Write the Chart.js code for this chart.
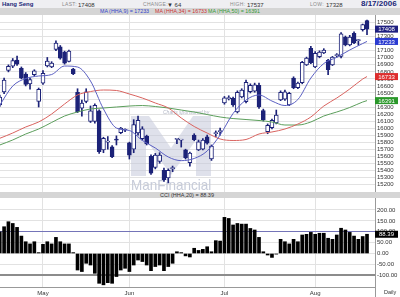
<!DOCTYPE html>
<html>
<head>
<meta charset="utf-8">
<script src="https://cdn.jsdelivr.net/npm/chart.js@4"></script>
<style>
body{margin:0;width:400px;height:297px;overflow:hidden;background:#fff;position:relative;font-family:"Liberation Sans",Arial,sans-serif}
.t{position:absolute;white-space:nowrap;line-height:1}
.lab{font-size:5px;color:#8a8a8a;top:2px;letter-spacing:0.3px}
.val{font-size:6px;color:#333;top:1.5px}
#row1{position:absolute;left:0;top:0;width:400px;height:8px;background:#efeff2}
#row2{position:absolute;left:0;top:8px;width:400px;height:7px;background:#d5d5d5}
#band{position:absolute;left:0;top:192px;width:400px;height:6px;background:#d5d5d5}
#pc{position:absolute;left:0;top:15px}
#cc{position:absolute;left:0;top:198px}
#vl{position:absolute;left:375px;top:287px;width:1px;height:10px;background:#999}
</style>
</head>
<body>
<div id="row1">
  <span class="t" style="left:2px;top:0.5px;font-size:6px;font-weight:bold;color:#1b2778">Hang Seng</span>
  <span class="t lab" style="left:62px">LAST:</span><span class="t val" id="vLast" style="left:78px"></span>
  <span class="t lab" style="left:143px">CHANGE:</span><span class="t val" id="vChg" style="left:167px"></span>
  <span class="t lab" style="left:230px">HIGH:</span><span class="t val" id="vHigh" style="left:247px"></span>
  <span class="t lab" style="left:310px">LOW:</span><span class="t val" id="vLow" style="left:326px"></span>
  <span class="t" style="left:361px;top:0px;font-size:8px;font-weight:bold;color:#1b2778">8/17/2006</span>
</div>
<div id="row2">
  <span class="t" id="l9" style="left:100px;top:1.2px;font-size:5.3px;color:#3344cc"></span>
  <span class="t" id="l34" style="left:155px;top:1.2px;font-size:5.3px;color:#cc3333"></span>
  <span class="t" id="l50" style="left:208px;top:1.2px;font-size:5.3px;color:#339933"></span>
</div>
<canvas id="pc" width="400" height="177"></canvas>
<div id="band"><span class="t" id="lcci" style="left:160px;top:0.5px;font-size:5.5px;color:#333"></span></div>
<canvas id="cc" width="400" height="99"></canvas>
<div id="vl"></div>
<span class="t" style="left:384px;top:290px;font-size:5.5px;color:#333">Daily</span>

<script>
// trading days shown on the chart
const days = ['4/13','4/18','4/19','4/20','4/21','4/24','4/25','4/26','4/27','4/28',
  '5/2','5/3','5/4','5/8','5/9','5/10','5/11','5/12','5/15','5/16',
  '5/17','5/18','5/19','5/22','5/23','5/24','5/25','5/26','5/29','5/30',
  '6/1','6/2','6/5','6/6','6/7','6/8','6/9','6/12','6/13','6/14',
  '6/15','6/16','6/19','6/20','6/21','6/22','6/23','6/26','6/27','6/28',
  '6/29','6/30','7/3','7/4','7/5','7/6','7/7','7/10','7/11','7/12',
  '7/13','7/14','7/17','7/18','7/19','7/20','7/21','7/24','7/25','7/26',
  '7/27','7/28','7/31','8/1','8/2','8/3','8/4','8/7','8/8','8/9',
  '8/10','8/11','8/14','8/15','8/16','8/17'];
const monthNames = ['May','Jun','Jul','Aug'];

const open = [16330,16513,16820,16880,16968,16850,16770,16630,16760,16380,
  16640,16885,16870,17120,17155,17080,16950,16840,16510,16285,
  16378,16095,16095,16245,15690,15800,15735,15840,15935,15970,
  15790,15700,15930,15850,15885,15600,15440,15525,15400,15290,
  15420,15840,15830,15690,15510,15900,15690,15700,15875,15560,
  15920,15950,16360,16420,16425,16230,16445,16375,16520,16525,
  16610,16250,15950,16005,16075,16400,16410,16330,16710,16575,
  16645,16900,17135,16870,17015,17070,16965,16900,17030,17020,
  17295,17185,17350,17245,17400,17530];
const high = [16470,16710,16900,16990,17025,16870,16790,16710,16830,16570,
  16820,17005,16945,17240,17175,17095,17110,16850,16560,16400,
  16560,16315,16345,16260,15870,15880,15750,15890,16010,15990,
  15800,16120,16170,16020,15900,15620,15640,15650,15430,15420,
  15460,15850,15840,15700,15660,15920,15830,15850,15900,15760,
  15960,16000,16450,16460,16440,16530,16560,16684,16630,16640,
  16640,16270,16060,16130,16257,16530,16540,16510,16730,16655,
  16950,17010,17165,17090,17100,17130,16980,17020,17060,17360,
  17310,17320,17370,17260,17480,17537];
const low = [16310,16490,16800,16860,16890,16700,16600,16555,16745,16300,
  16620,16870,16860,17100,16980,16910,16940,16760,16220,16170,
  16360,16080,16070,15640,15650,15700,15580,15760,15920,15950,
  15560,15650,15900,15830,15760,15340,15420,15500,15240,15220,
  15380,15780,15730,15560,15460,15820,15680,15690,15770,15540,
  15880,15900,16340,16400,16310,16215,16430,16360,16500,16510,
  16280,16100,15920,15990,16060,16390,16395,16320,16560,16560,
  16630,16890,16915,16860,17000,17060,16760,16890,17010,17000,
  17170,17170,17200,17180,17380,17328];
const close = [16440,16684,16880,16960,16910,16710,16620,16690,16815,16550,
  16780,16955,16925,17210,16995,16925,17095,16775,16235,16355,
  16515,16245,16325,15665,15855,15815,15595,15830,16000,15980,
  15615,16050,16110,15990,15775,15360,15615,15615,15265,15400,
  15440,15850,15840,15575,15645,15835,15805,15830,15785,15745,
  15935,15960,16430,16430,16330,16510,16540,16650,16610,16615,
  16300,16120,16040,16110,16185,16510,16515,16495,16575,16640,
  16935,16995,16930,17065,17080,17110,16830,17010,17035,17340,
  17185,17295,17215,17250,17472,17408];

// moving averages at every third session
const maIdx = [0,3,6,9,12,15,18,21,24,27,30,33,36,39,42,45,48,51,54,57,60,63,66,69,72,75,78,81,84,85];
const ma9 = [16328,16599,16705,16741,16762,16883,16869,16670,16272,16001,15966,15824,15717,15589,15537,
  15568,15674,15902,16208,16400,16471,16385,16321,16407,16712,16919,17007,17111,17203,17233];
const ma34 = [15855,15930,16016,16087,16200,16343,16471,16520,16542,16535,16485,16428,16357,16286,16144,
  16023,15930,15845,15824,15838,15916,15945,15987,16058,16158,16314,16428,16556,16698,16733];
const ma50 = [15760,15831,15916,15987,16080,16172,16229,16272,16286,16300,16314,16321,16307,16286,16257,
  16229,16193,16158,16136,16122,16108,16087,16044,16044,16087,16172,16229,16293,16371,16391];

const cci = [100,123,146,138,120,80,54,44,54,4,
  42,54,44,74,54,44,44,4,-76,-83,
  -45,-53,-91,-137,-144,-134,-137,-106,-76,-68,
  -83,-53,-30,-37,-53,-79,-60,-53,-79,-60,
  -45,8,4,-11,-16,24,14,19,31,8,
  59,57,166,161,131,138,135,135,115,108,
  74,8,-7,-18,-3,65,54,44,65,54,
  85,88,97,88,93,93,70,65,85,116,
  108,97,80,65,78,88.39];

const priceTicks = [15200,15300,15400,15500,15600,15700,15800,15900,16000,16100,16200,16300,
  16400,16500,16600,16700,16800,16900,17000,17100,17200,17300,17400,17500];
const cciTicks = [-100,-50,0,50,100,150,200];

const navy = '#1c2278';
const gridCol = '#e2e2e2';
const fontFam = "'Liberation Sans', Arial, sans-serif";
Chart.defaults.font.family = fontFam;

const last = days.length - 1;
const monthStart = days.map((d, i) => i).filter(i => i > 0 && days[i].split('/')[0] !== days[i - 1].split('/')[0]);

document.getElementById('vLast').textContent = close[last];
document.getElementById('vChg').textContent = '\u25BC ' + Math.round(close[last - 1] - close[last]);
document.getElementById('vHigh').textContent = high[last];
document.getElementById('vLow').textContent = low[last];
document.getElementById('l9').textContent = 'MA (HHA,9) = ' + ma9[ma9.length - 1];
document.getElementById('l34').textContent = 'MA (HHA,34) = ' + ma34[ma34.length - 1];
document.getElementById('l50').textContent = 'MA (HHA,50) = ' + ma50[ma50.length - 1];
document.getElementById('lcci').textContent = 'CCI (HHA,20) = ' + cci[last].toFixed(2);

const xMin = 0.05, xMax = 86.85;

function fitRight(s) { s.width = 25; s.paddingTop = 0; s.paddingBottom = 0; }

// value tags on the right axis
function tagPlugin(tags) {
  return {
    id: 'tags',
    afterDraw(chart) {
      const ctx = chart.ctx, y = chart.scales.y;
      ctx.save();
      ctx.font = '6px ' + fontFam;
      ctx.textAlign = 'center';
      ctx.textBaseline = 'middle';
      tags.forEach(t => {
        const py = y.getPixelForValue(t.v);
        ctx.fillStyle = t.c;
        ctx.fillRect(375, py - 3.5, 23, 7);
        ctx.fillStyle = '#fff';
        ctx.fillText(t.txt, 386.5, py + 0.5);
      });
      ctx.restore();
    }
  };
}

const watermark = {
  id: 'watermark',
  beforeDatasetsDraw(chart) {
    const ctx = chart.ctx;
    ctx.save();
    ctx.fillStyle = 'rgba(196,201,218,0.55)';
    ctx.beginPath();
    const pts = [[131,101],[149,101],[171,133],[193,101],[211,101],[211,161],[196,161],[196,125],[171,160],[146,125],[146,161],[131,161]];
    pts.forEach((p, i) => i ? ctx.lineTo(p[0], p[1]) : ctx.moveTo(p[0], p[1]));
    ctx.closePath();
    ctx.fill();
    ctx.fillStyle = '#c6cbd9';
    ctx.font = '15px ' + fontFam;
    ctx.translate(131, 175);
    ctx.scale(0.9, 1);
    ctx.fillText('ManFinancial', 0, 0);
    ctx.setTransform(1, 0, 0, 1, 0, 0);
    ctx.fillStyle = '#b4b8c6';
    ctx.font = 'italic 5px ' + fontFam;
    ctx.fillText('Charts sponsored by', 163, 99);
    ctx.restore();
  }
};

new Chart('pc', {
  data: {
    datasets: [
      {
        type: 'bar',
        data: days.map((d, i) => ({x: i, y: [low[i], high[i]]})),
        backgroundColor: navy,
        barThickness: 1,
        grouped: false,
        order: 3
      },
      {
        type: 'bar',
        data: days.map((d, i) => ({x: i, y: [open[i], close[i]]})),
        backgroundColor: days.map((d, i) => close[i] >= open[i] ? '#ffffff' : navy),
        borderColor: navy,
        borderWidth: 1,
        borderSkipped: false,
        barThickness: 4,
        minBarLength: 1,
        grouped: false,
        order: 2
      },
      {type: 'line', data: maIdx.map((v, k) => ({x: v, y: ma9[k]})), borderColor: '#5a5fc2', borderWidth: 1, pointRadius: 0, cubicInterpolationMode: 'monotone', order: 1},
      {type: 'line', data: maIdx.map((v, k) => ({x: v, y: ma34[k]})), borderColor: '#d9625e', borderWidth: 1, pointRadius: 0, cubicInterpolationMode: 'monotone', order: 1},
      {type: 'line', data: maIdx.map((v, k) => ({x: v, y: ma50[k]})), borderColor: '#5b9e5b', borderWidth: 1, pointRadius: 0, cubicInterpolationMode: 'monotone', order: 1}
    ]
  },
  options: {
    responsive: false,
    animation: false,
    events: [],
    layout: {padding: 0},
    plugins: {legend: {display: false}, tooltip: {enabled: false}},
    scales: {
      x: {
        type: 'linear', min: xMin, max: xMax, offset: false,
        afterBuildTicks: s => { s.ticks = monthStart.map(v => ({value: v})); },
        grid: {color: gridCol, drawTicks: false, offset: false},
        border: {display: false},
        ticks: {display: false},
        afterFit: s => { s.height = 0; s.paddingLeft = 0; s.paddingRight = 0; }
      },
      y: {
        position: 'right', min: 15091, max: 17609,
        afterBuildTicks: s => { s.ticks = priceTicks.map(v => ({value: v})); },
        grid: {color: gridCol, drawTicks: false},
        border: {color: '#9a9a9a'},
        ticks: {padding: 2, color: '#333', font: {size: 6}, autoSkip: false, callback: v => String(v)},
        afterFit: fitRight
      }
    }
  },
  plugins: [watermark, tagPlugin([
    {v: close[last], txt: String(close[last]), c: '#1f2080'},
    {v: ma9[ma9.length - 1], txt: String(ma9[ma9.length - 1]), c: '#2b3bd1'},
    {v: ma34[ma34.length - 1], txt: String(ma34[ma34.length - 1]), c: '#de2e2e'},
    {v: ma50[ma50.length - 1], txt: String(ma50[ma50.length - 1]), c: '#2a982a'}
  ])]
});

new Chart('cc', {
  type: 'bar',
  data: {
    datasets: [{
      data: days.map((d, i) => ({x: i, y: cci[i]})),
      backgroundColor: '#000',
      barThickness: 3,
      grouped: false
    }]
  },
  options: {
    responsive: false,
    animation: false,
    events: [],
    layout: {padding: 0},
    plugins: {legend: {display: false}, tooltip: {enabled: false}},
    scales: {
      x: {
        type: 'linear', min: xMin, max: xMax, offset: false,
        afterBuildTicks: s => { s.ticks = monthStart.map(v => ({value: v})); },
        grid: {color: gridCol, drawTicks: false, offset: false},
        border: {color: '#999'},
        ticks: {padding: 3, color: '#333', font: {size: 6}, autoSkip: false, maxRotation: 0,
          callback: v => monthNames[monthStart.indexOf(v)]},
        afterFit: s => { s.height = 10; s.paddingLeft = 0; s.paddingRight = 0; }
      },
      y: {
        position: 'right', min: -154, max: 255,
        afterBuildTicks: s => { s.ticks = cciTicks.map(v => ({value: v})); },
        grid: {
          drawTicks: false,
          color: c => c.tick.value === 100 ? '#7474b8' : (c.tick.value === -100 ? '#8c8c8c' : gridCol),
          lineWidth: c => c.tick.value === -100 ? 2 : 1
        },
        border: {color: '#9a9a9a'},
        ticks: {padding: 2, color: '#333', font: {size: 6}, autoSkip: false, callback: v => v.toFixed(2)},
        afterFit: fitRight
      }
    }
  },
  plugins: [tagPlugin([{v: cci[last], txt: cci[last].toFixed(2), c: '#000'}])]
});
</script>
</body>
</html>
